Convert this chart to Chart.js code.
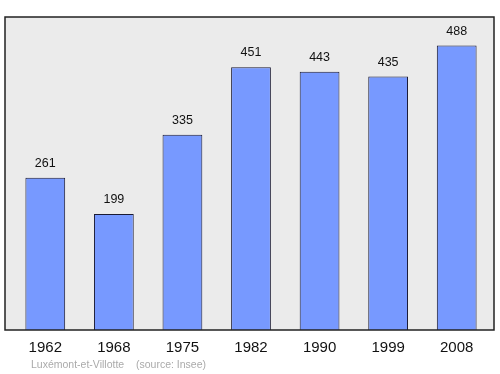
<!DOCTYPE html>
<html>
<head>
<meta charset="utf-8">
<script src="https://cdn.jsdelivr.net/npm/chart.js@4/dist/chart.umd.min.js"></script>
<style>
  html, body { margin: 0; padding: 0; background: #ffffff; }
  #wrap { width: 500px; height: 374px; }
</style>
</head>
<body>
<div id="wrap"><canvas id="c" width="500" height="374"></canvas></div>
<script>
const years = ["1962", "1968", "1975", "1982", "1990", "1999", "2008"];
const population = [261, 199, 335, 451, 443, 435, 488];
const sourceName = "Luxémont-et-Villotte";
const sourceNote = "(source: Insee)";

const framePlugin = {
  id: 'frame',
  beforeDraw(chart) {
    const { ctx, chartArea: a } = chart;
    ctx.save();
    ctx.fillStyle = '#ebebeb';
    ctx.fillRect(a.left - 6, a.top, a.right - a.left + 9, a.bottom - a.top);
    ctx.restore();
  },
  afterDatasetsDraw(chart) {
    const { ctx, chartArea: a } = chart;
    ctx.save();
    ctx.strokeStyle = '#222222';
    ctx.lineWidth = 1.5;
    ctx.strokeRect(a.left - 6, a.top, a.right - a.left + 9, a.bottom - a.top);
    // value labels
    const meta = chart.getDatasetMeta(0);
    ctx.fillStyle = '#111111';
    ctx.font = '12.5px "Liberation Sans", Arial, sans-serif';
    ctx.textAlign = 'center';
    ctx.textBaseline = 'bottom';
    meta.data.forEach((bar, i) => {
      ctx.fillText(String(population[i]), bar.x, bar.y - 8);
    });
    // source line
    ctx.fillStyle = '#aaaaaa';
    ctx.font = '10.5px "Liberation Sans", Arial, sans-serif';
    ctx.textAlign = 'left';
    ctx.textBaseline = 'middle';
    ctx.fillText(sourceName, 31, 365);
    ctx.fillText(sourceNote, 136, 365);
    ctx.restore();
  }
};

new Chart(document.getElementById('c'), {
  type: 'bar',
  data: {
    labels: years,
    datasets: [{
      data: population,
      backgroundColor: '#7799ff',
      borderColor: '#1a1a33',
      borderWidth: 1,
      barPercentage: 0.58,
      categoryPercentage: 1.0
    }]
  },
  options: {
    responsive: false,
    animation: false,
    devicePixelRatio: 1,
    layout: { padding: { top: 17, left: 11, right: 9, bottom: 8 } },
    plugins: { legend: { display: false }, tooltip: { enabled: false } },
    scales: {
      x: {
        grid: { display: false, drawTicks: false },
        border: { display: false },
        ticks: {
          color: '#111111',
          padding: 9,
          font: { family: '"Liberation Sans", Arial, sans-serif', size: 15 }
        }
      },
      y: {
        display: false,
        min: 0,
        max: 537
      }
    }
  },
  plugins: [framePlugin]
});
</script>
</body>
</html>
